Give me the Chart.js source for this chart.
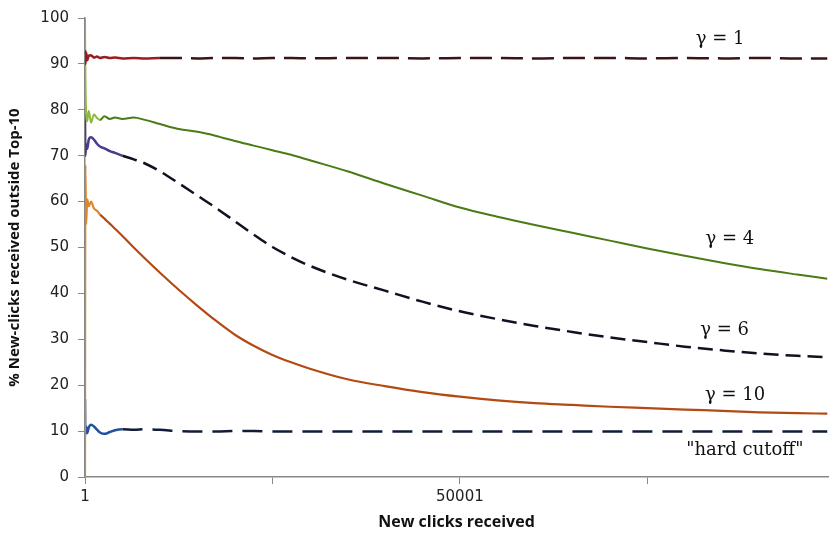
<!DOCTYPE html>
<html>
<head>
<meta charset="utf-8">
<script src="https://cdn.jsdelivr.net/npm/chart.js@4.4.1/dist/chart.umd.min.js"></script>
<style>
  html, body { margin: 0; padding: 0; background: #fff; }
  #wrap { width: 829px; height: 534px; position: relative; }
</style>
</head>
<body>
<div id="wrap"><canvas id="lineChart"></canvas></div>
<script>
// clicks received (x)
const clicks = [1, 50, 150, 300, 500, 800, 1200, 1600, 2000, 2600, 3300, 4000, 5000, 6500, 8000,
  10000, 12500, 15000, 17500, 20000, 22500, 25000, 27500, 30000, 35000, 40000, 45000, 50000,
  55000, 60000, 65000, 70000, 75000, 80000, 85000, 90000, 95000, 99000];

// % new clicks outside top-10, one list per gamma
const gamma1 = [93, 90.0, 92.5, 90.8, 91.8, 91.9, 91.4, 91.6, 91.3, 91.5, 91.3, 91.4, 91.2, 91.3, 91.2,
  91.3, 91.3, 91.2, 91.3, 91.3, 91.2, 91.3, 91.3, 91.2, 91.3, 91.3, 91.2, 91.3,
  91.3, 91.2, 91.3, 91.3, 91.2, 91.3, 91.2, 91.3, 91.2, 91.2];
const gamma4 = [100, 88, 79.5, 77.5, 79.8, 77.2, 79.0, 78.2, 77.8, 78.6, 78.0, 78.3, 78.0, 78.3, 77.8,
  76.9, 75.8, 75.2, 74.3, 73.2, 72.2, 71.2, 70.2, 69.0, 66.6, 63.9, 61.3, 58.7,
  56.7, 54.9, 53.2, 51.5, 49.8, 48.2, 46.7, 45.3, 44.1, 43.2];
const gamma6 = [79, 70, 72.5, 71.5, 73.5, 74.0, 73.5, 72.6, 72.0, 71.6, 71.0, 70.6, 70.0, 69.2, 68.3,
  66.6, 64.0, 61.3, 58.6, 55.7, 52.8, 50.1, 47.9, 46.0, 43.0, 40.6, 38.2, 36.1,
  34.4, 32.9, 31.6, 30.4, 29.4, 28.4, 27.6, 26.9, 26.4, 26.1];
const gamma10 = [0, 68, 55, 60.5, 59, 60, 58.5, 58.0, 57.2, 56.3, 55.2, 54.1, 52.5, 50.0, 47.6,
  44.5, 40.8, 37.3, 34.0, 31.0, 28.6, 26.6, 25.0, 23.6, 21.3, 19.8, 18.5, 17.5,
  16.7, 16.1, 15.7, 15.3, 15.0, 14.7, 14.4, 14.1, 13.9, 13.8];
const hardCutoff = [17, 9.2, 11.0, 9.6, 10.8, 11.4, 11.0, 10.3, 9.7, 9.4, 9.8, 10.2, 10.4, 10.3, 10.4,
  10.3, 10.0, 9.9, 9.9, 10.0, 10.0, 9.9, 9.9, 9.9, 9.9, 9.9, 9.9, 9.9,
  9.9, 9.9, 9.9, 9.9, 9.9, 9.9, 9.9, 9.9, 9.9, 9.9];

const xTicks = [1, 25001, 50001, 75001];
const xLabelled = [1, 50001];

const curveLabels = ['\u03b3 = 1', '\u03b3 = 4', '\u03b3 = 6', '\u03b3 = 10', '"hard cutoff"'];

function pts(ys) {
  return clicks.map((c, i) => ({ x: c, y: ys[i] }));
}

// early noisy part is drawn solid in a lighter colour, the rest in the main style
function series(ys, early, late, dash, earlyUntil, width) {
  return {
    data: pts(ys),
    borderColor: late,
    borderWidth: width,
    pointRadius: 0,
    cubicInterpolationMode: 'monotone',
    segment: {
      borderColor: ctx => ctx.p0.parsed.x < earlyUntil ? early : late,
      borderDash: ctx => ctx.p0.parsed.x < earlyUntil ? [] : dash
    }
  };
}

const labelPlugin = {
  id: 'curveLabels',
  afterDatasetsDraw(chart) {
    const { ctx, scales } = chart;
    const at = [[84700, 95.4], [86000, 51.8], [85300, 32.0], [86700, 17.7], [88000, 5.8]];
    ctx.save();
    ctx.font = '18px "DejaVu Serif"';
    ctx.fillStyle = '#111';
    ctx.textAlign = 'center';
    ctx.textBaseline = 'middle';
    curveLabels.forEach((t, i) => {
      ctx.fillText(t, scales.x.getPixelForValue(at[i][0]), scales.y.getPixelForValue(at[i][1]));
    });
    ctx.restore();
  }
};

const config = {
  type: 'line',
  data: {
    datasets: [
      series(gamma1, '#9a1c1c', '#3a1414', [22, 9], 9000, 2.5),
      series(gamma4, '#8fb83e', '#4b7a16', [], 2000, 2),
      series(gamma6, '#4c3a8c', '#111122', [15, 7], 5000, 2.5),
      series(gamma10, '#e0862a', '#b34a14', [], 2000, 2.2),
      series(hardCutoff, '#2050a0', '#101c38', [20, 10], 5000, 2.5)
    ]
  },
  options: {
    responsive: true,
    maintainAspectRatio: false,
    animation: false,
    layout: { padding: { top: 13, right: 1, left: 0, bottom: 0 } },
    plugins: { legend: { display: false }, tooltip: { enabled: false } },
    scales: {
      x: {
        type: 'linear',
        min: 1,
        max: 99100,
        afterBuildTicks: s => { s.ticks = xTicks.map(v => ({ value: v })); },
        afterFit: s => { s.height = 57; },
        ticks: {
          autoSkip: false,
          maxRotation: 0,
          padding: 4,
          color: '#222',
          font: { family: 'DejaVu Sans', size: 15 },
          callback: v => xLabelled.includes(v) ? String(v) : ''
        },
        grid: { drawOnChartArea: false, drawTicks: true, tickLength: 7, color: '#888' },
        border: { color: '#888', width: 1.5 },
        title: {
          display: true,
          text: 'New clicks received',
          color: '#111',
          font: { family: 'Open Sans', size: 16, weight: 'bold' },
          padding: { top: 0, bottom: 2 }
        }
      },
      y: {
        min: 0,
        max: 100,
        afterFit: s => { s.width = 85; },
        ticks: {
          stepSize: 10,
          padding: 9,
          color: '#222',
          font: { family: 'DejaVu Sans', size: 15 }
        },
        grid: { drawOnChartArea: false, drawTicks: true, tickLength: 7, color: '#888' },
        border: { color: '#888', width: 1.5 },
        title: {
          display: true,
          text: '% New-clicks received outside Top-10',
          color: '#111',
          font: { family: 'Open Sans', size: 15, weight: 'bold' },
          padding: { top: 6, bottom: 0 }
        }
      }
    }
  },
  plugins: [labelPlugin]
};

//eslint-disable-next-line
const lineChart = new Chart(document.getElementById('lineChart'), config);
</script>
</body>
</html>
